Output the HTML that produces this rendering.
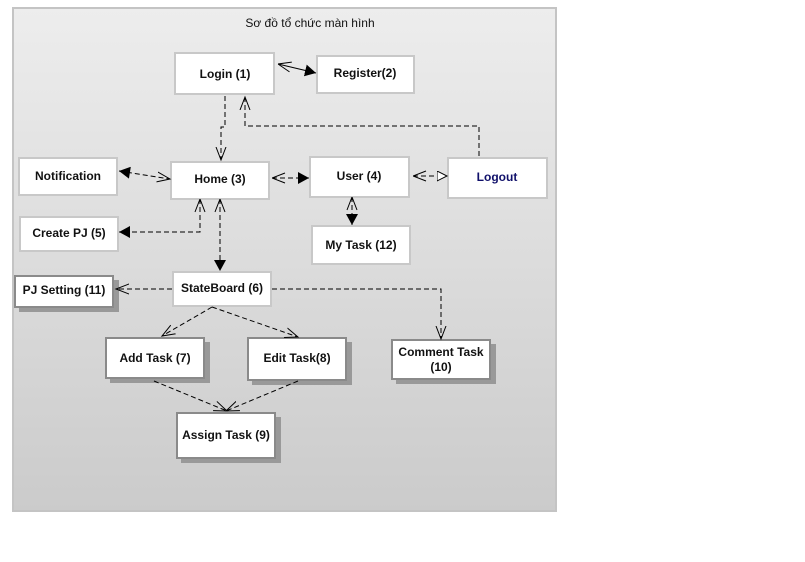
<!DOCTYPE html>
<html><head><meta charset="utf-8"><style>
html,body{margin:0;padding:0;background:#fff;width:805px;height:562px;overflow:hidden}
svg{display:block}
text{font-family:"Liberation Sans",Arial,sans-serif;font-size:12px;font-weight:bold;fill:#111;text-anchor:middle}
</style></head><body>
<svg width="805" height="562" viewBox="0 0 805 562" xmlns="http://www.w3.org/2000/svg">
<defs>
<linearGradient id="g" x1="0" y1="0" x2="0" y2="1"><stop offset="0" stop-color="#ededed"/><stop offset="1" stop-color="#cbcbcb"/></linearGradient>
<marker id="o" markerUnits="userSpaceOnUse" markerWidth="16" markerHeight="14" refX="13" refY="6" orient="auto"><path d="M0,1 L13,6 L0,11" fill="none" stroke="#000" stroke-width="1"/></marker>
<marker id="f" markerUnits="userSpaceOnUse" markerWidth="14" markerHeight="14" refX="11" refY="6" orient="auto"><path d="M0,0 L11,6 L0,12 Z" fill="#000"/></marker>
<marker id="os" markerUnits="userSpaceOnUse" markerWidth="16" markerHeight="14" refX="0" refY="6" orient="auto"><path d="M13,1 L0,6 L13,11" fill="none" stroke="#000" stroke-width="1"/></marker>
<marker id="fs" markerUnits="userSpaceOnUse" markerWidth="14" markerHeight="14" refX="0" refY="6" orient="auto"><path d="M11,0 L0,6 L11,12 Z" fill="#000"/></marker>
<marker id="h" markerUnits="userSpaceOnUse" markerWidth="14" markerHeight="14" refX="10" refY="5" orient="auto"><path d="M0,0 L10,5 L0,10 Z" fill="#fff" stroke="#000" stroke-width="1"/></marker>
</defs>
<rect x="13" y="8" width="543" height="503" fill="url(#g)" stroke="#c4c4c4" stroke-width="2"/>
<text x="310" y="27" style="font-weight:normal">Sơ đồ tổ chức màn hình</text>

<g fill="#fff" stroke="#c8c8c8" stroke-width="2">
<rect x="175" y="53" width="99" height="41"/>
<rect x="317" y="56" width="97" height="37"/>
<rect x="19" y="158" width="98" height="37"/>
<rect x="171" y="162" width="98" height="37"/>
<rect x="310" y="157" width="99" height="40"/>
<rect x="448" y="158" width="99" height="40"/>
<rect x="20" y="217" width="98" height="34"/>
<rect x="312" y="226" width="98" height="38"/>
<rect x="173" y="272" width="98" height="34"/>
</g>
<g fill="#999">
<rect x="19" y="280" width="100" height="32"/>
<rect x="110" y="342" width="100" height="41"/>
<rect x="252" y="342" width="100" height="43"/>
<rect x="396" y="344" width="100" height="40"/>
<rect x="181" y="417" width="100" height="46"/>
</g>
<g fill="#fff" stroke="#8a8a8a" stroke-width="2">
<rect x="15" y="276" width="98" height="31"/>
<rect x="106" y="338" width="98" height="40"/>
<rect x="248" y="338" width="98" height="42"/>
<rect x="392" y="340" width="98" height="39"/>
<rect x="177" y="413" width="98" height="45"/>
</g>

<text x="225" y="78">Login (1)</text>
<text x="365" y="77">Register(2)</text>
<text x="68" y="180">Notification</text>
<text x="220" y="183">Home (3)</text>
<text x="359" y="180">User (4)</text>
<text x="497" y="181" style="fill:#10106a">Logout</text>
<text x="69" y="237">Create PJ (5)</text>
<text x="361" y="249">My Task (12)</text>
<text x="222" y="292">StateBoard (6)</text>
<text x="64" y="294">PJ Setting (11)</text>
<text x="155" y="362">Add Task (7)</text>
<text x="297" y="362">Edit Task(8)</text>
<text x="441" y="356">Comment Task</text>
<text x="441" y="371">(10)</text>
<text x="226" y="439">Assign Task (9)</text>

<g fill="none" stroke="#000" stroke-width="1">
<line x1="278" y1="64" x2="316" y2="73" marker-start="url(#os)" marker-end="url(#f)"/>
<g stroke-dasharray="5,3">
<path d="M225,96 V127 H221 V160" marker-end="url(#o)"/>
<path d="M479,156 V126 H245 V97" marker-end="url(#o)"/>
<line x1="119" y1="171" x2="170" y2="179" marker-start="url(#fs)" marker-end="url(#o)"/>
<line x1="272" y1="178" x2="309" y2="178" marker-start="url(#os)" marker-end="url(#f)"/>
<line x1="413" y1="176" x2="447" y2="176" marker-start="url(#os)" marker-end="url(#h)"/>
<line x1="352" y1="197" x2="352" y2="225" marker-start="url(#os)" marker-end="url(#f)"/>
<path d="M200,199 V232 H119" marker-start="url(#os)" marker-end="url(#f)"/>
<line x1="220" y1="199" x2="220" y2="271" marker-start="url(#os)" marker-end="url(#f)"/>
<line x1="172" y1="289" x2="116" y2="289" marker-end="url(#o)"/>
<path d="M272,289 H441 V339" marker-end="url(#o)"/>
<line x1="212" y1="307" x2="162" y2="336" marker-end="url(#o)"/>
<line x1="212" y1="307" x2="298" y2="337" marker-end="url(#o)"/>
<line x1="154" y1="381" x2="227" y2="411" marker-end="url(#o)"/>
<line x1="298" y1="381" x2="226" y2="411" marker-end="url(#o)"/>
</g>
</g>
</svg>
</body></html>
